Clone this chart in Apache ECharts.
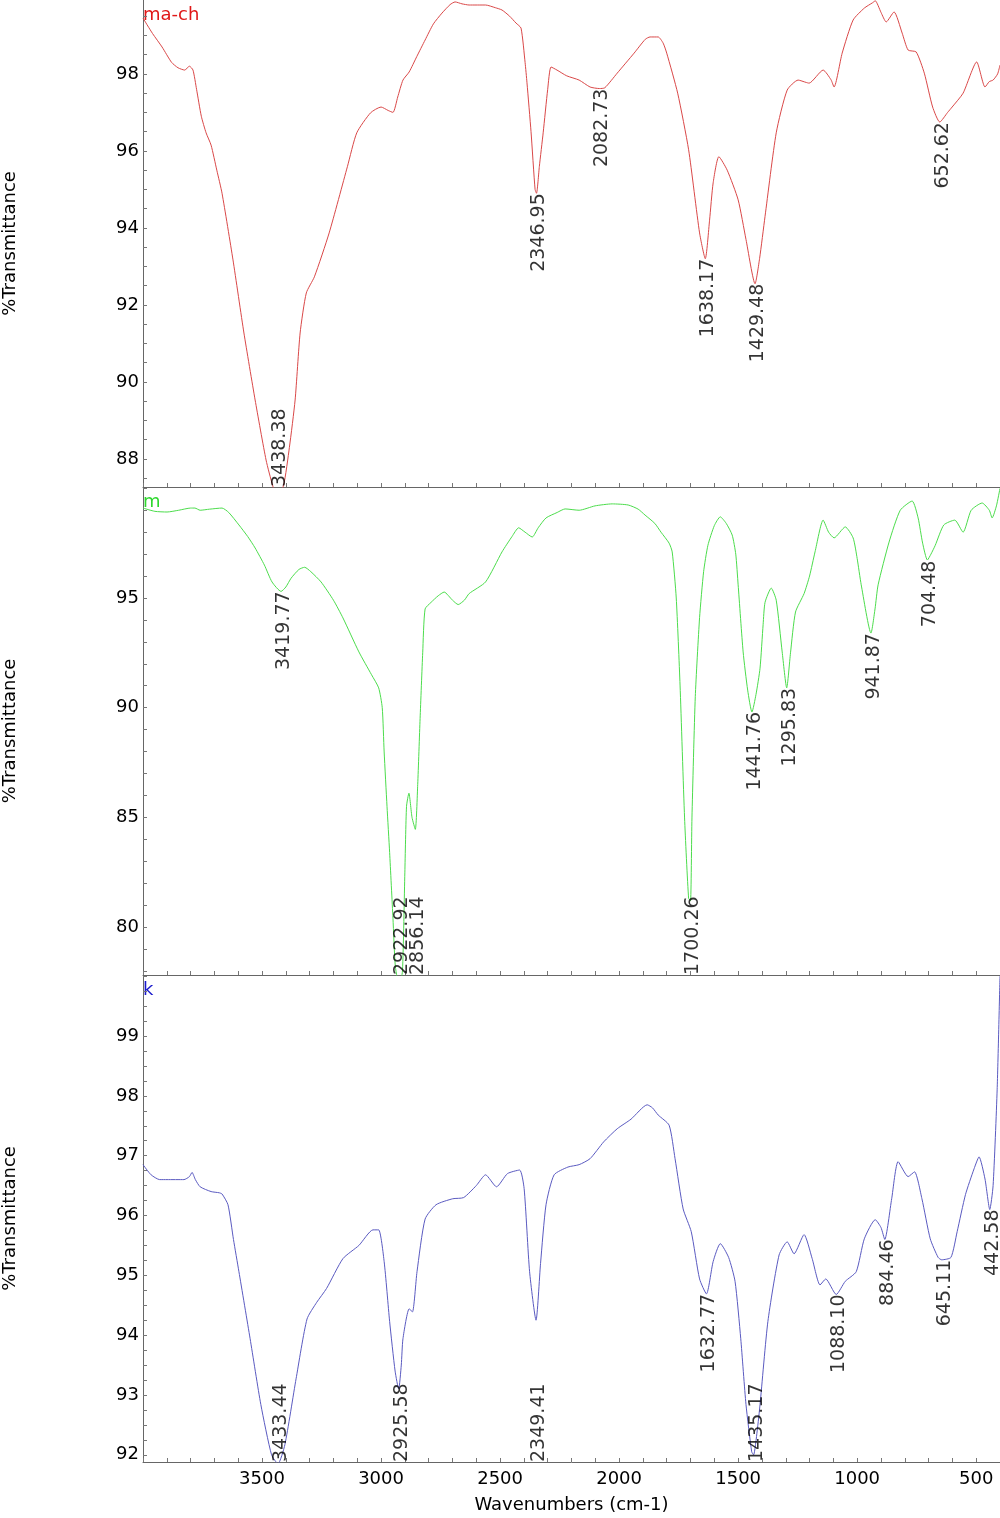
<!DOCTYPE html>
<html><head><meta charset="utf-8">
<script src="https://cdn.jsdelivr.net/npm/echarts@6/dist/echarts.min.js"></script>
<style>html,body{margin:0;padding:0;background:#fff}#c{width:1000px;height:1518px}</style>
</head><body><div id="c"></div>
<script>
// ---- data (wavenumber cm-1, %T) ----
const redSpectrum = [[4000,99.45],[3960,99.05],[3920,98.7],[3880,98.3],[3853,98.16],[3825,98.1],[3805,98.2],[3790,98.1],[3775,97.6],[3755,96.9],[3735,96.47],[3714,96.15],[3690,95.5],[3668,94.9],[3622,93.17],[3576,91.27],[3529,89.53],[3483,87.97],[3455,87.3],[3438,87.05],[3410,87.3],[3385,88.3],[3361,89.53],[3340,91.27],[3314,92.31],[3280,92.73],[3218,93.87],[3141,95.6],[3102,96.47],[3044,96.99],[3000,97.14],[2970,97.05],[2950,97.0],[2930,97.4],[2908,97.84],[2882,98.05],[2850,98.45],[2815,98.88],[2780,99.3],[2744,99.58],[2710,99.8],[2689,99.87],[2660,99.82],[2630,99.79],[2561,99.79],[2520,99.72],[2492,99.66],[2460,99.5],[2433,99.32],[2412,99.19],[2395,98.3],[2387,97.77],[2370,96.5],[2353,95.0],[2347,94.9],[2335,95.6],[2319,96.47],[2300,97.6],[2286,98.18],[2261,98.1],[2220,97.95],[2168,97.84],[2122,97.66],[2083,97.62],[2060,97.64],[2008,98.02],[1937,98.54],[1890,98.9],[1870,98.96],[1836,98.96],[1815,98.8],[1800,98.54],[1754,97.5],[1708,96.03],[1662,93.87],[1638,93.2],[1620,94.2],[1605,95.17],[1581,95.85],[1546,95.5],[1500,94.73],[1467,93.7],[1429,92.55],[1410,93.2],[1387,94.3],[1340,96.47],[1294,97.58],[1248,97.84],[1215,97.78],[1202,97.76],[1143,98.1],[1110,97.85],[1097,97.66],[1063,98.54],[1017,99.4],[970,99.71],[935,99.85],[924,99.9],[900,99.6],[878,99.35],[845,99.61],[811,99.06],[786,98.62],[752,98.57],[718,98.02],[683,97.14],[653,96.75],[620,97.0],[601,97.14],[555,97.5],[498,98.31],[463,97.66],[445,97.8],[429,97.84],[410,98.0],[400,98.23]];

const greenSpectrum = [[4000,99.1],[3950,98.95],[3899,98.92],[3850,99.0],[3800,99.1],[3782,99.1],[3760,99.0],[3720,99.05],[3668,99.1],[3640,98.9],[3597,98.33],[3560,97.8],[3529,97.28],[3490,96.5],[3458,95.73],[3420,95.3],[3400,95.5],[3378,95.9],[3345,96.3],[3321,96.4],[3295,96.2],[3252,95.73],[3200,94.9],[3160,94.09],[3093,92.54],[3040,91.5],[3010,90.9],[2995,90.0],[2987,87.98],[2975,85.5],[2964,83.4],[2950,80.4],[2940,78.2],[2923,77.3],[2910,78.0],[2900,82.5],[2893,85.5],[2883,86.1],[2870,85.0],[2856,84.45],[2846,86.5],[2836,89.5],[2825,92.5],[2815,94.5],[2790,94.8],[2760,95.1],[2735,95.27],[2700,94.9],[2676,94.7],[2650,94.9],[2630,95.2],[2561,95.73],[2492,97.1],[2450,97.8],[2422,98.2],[2395,98.0],[2365,97.78],[2340,98.2],[2307,98.65],[2260,98.9],[2227,99.06],[2168,99.0],[2101,99.2],[2029,99.29],[1962,99.24],[1920,99.05],[1891,98.78],[1850,98.4],[1824,98.0],[1790,97.5],[1777,97.1],[1760,95.0],[1744,91.03],[1725,84.97],[1708,81.3],[1700,81.2],[1694,84.97],[1680,90.5],[1662,94.1],[1645,96.2],[1627,97.4],[1600,98.3],[1575,98.7],[1550,98.4],[1525,97.87],[1510,97.0],[1500,95.6],[1479,92.54],[1460,90.8],[1442,89.8],[1425,90.6],[1408,91.8],[1395,93.8],[1387,94.8],[1361,95.45],[1340,94.9],[1315,92.54],[1296,90.9],[1280,92.5],[1259,94.36],[1223,95.2],[1200,96.0],[1177,97.1],[1143,98.55],[1120,98.0],[1097,97.74],[1050,98.24],[1017,97.74],[1000,96.8],[983,95.6],[942,93.4],[925,94.5],[912,95.6],[866,97.55],[819,99.0],[769,99.42],[744,98.65],[725,97.5],[705,96.73],[690,97.0],[672,97.4],[636,98.33],[590,98.55],[555,98.0],[521,99.0],[475,99.33],[445,99.0],[433,98.65],[415,99.2],[400,100.0]];

const blueSpectrum = [[4000,96.85],[3966,96.68],[3930,96.6],[3899,96.6],[3828,96.6],[3805,96.65],[3794,96.72],[3780,96.6],[3760,96.48],[3714,96.4],[3680,96.38],[3668,96.36],[3643,96.18],[3620,95.6],[3597,95.06],[3550,93.94],[3505,92.84],[3460,92.0],[3433,91.85],[3404,92.17],[3357,93.27],[3311,94.27],[3270,94.55],[3229,94.78],[3160,95.28],[3093,95.5],[3034,95.76],[3010,95.76],[2987,95.23],[2964,94.23],[2941,93.4],[2926,93.1],[2915,93.5],[2908,93.94],[2882,94.44],[2868,94.39],[2849,95.06],[2815,95.94],[2769,96.18],[2699,96.28],[2653,96.3],[2600,96.5],[2561,96.68],[2515,96.48],[2469,96.7],[2418,96.76],[2399,96.45],[2376,95.06],[2349,94.25],[2330,95.2],[2307,96.18],[2273,96.68],[2215,96.81],[2168,96.85],[2122,96.95],[2065,97.23],[2008,97.45],[1950,97.61],[1882,97.85],[1860,97.8],[1836,97.68],[1790,97.51],[1765,96.95],[1731,96.11],[1697,95.73],[1662,94.94],[1633,94.69],[1605,95.23],[1575,95.53],[1540,95.3],[1513,94.9],[1489,93.94],[1467,92.84],[1443,92.05],[1435,92.0],[1420,92.4],[1408,92.84],[1375,94.23],[1328,95.34],[1294,95.56],[1265,95.36],[1223,95.68],[1189,95.28],[1156,94.84],[1132,94.94],[1088,94.68],[1050,94.9],[1004,95.06],[970,95.61],[924,95.93],[900,95.8],[884,95.6],[855,96.28],[828,96.9],[786,96.65],[759,96.73],[728,96.28],[693,95.61],[660,95.3],[645,95.26],[606,95.3],[580,95.73],[545,96.35],[509,96.78],[488,96.98],[463,96.61],[443,96.1],[429,96.5],[412,98.1],[400,100.0]];

// peak labels: [wavenumber, %T at peak]
const redPeaks = [[3438.38,87.05],[2346.95,94.9],[2082.73,97.62],[1638.17,93.2],[1429.48,92.55],[652.62,96.75]];
const greenPeaks = [[3419.77,95.3],[2922.92,77.3],[2856.14,84.45],[1700.26,81.2],[1441.76,89.8],[1295.83,90.9],[941.87,93.4],[704.48,96.7]];
const bluePeaks = [[3433.44,91.85],[2925.58,93.1],[2349.41,94.25],[1632.77,94.69],[1435.17,92.0],[1088.10,94.68],[884.46,95.6],[645.11,95.26],[442.58,96.1]];
// labels drawn upward from the bottom of the panel
const baseAnchoredLabels = ['3438.38','2922.92','2856.14','1700.26','3433.44','2925.58','2349.41','1435.17'];

const panelNames = ['ma-ch','m','k'];
const yRanges = [[87.27,99.92],[77.81,100.06],[91.88,100.02]];
const yTickLabels = [[88,90,92,94,96,98],[80,85,90,95],[92,93,94,95,96,97,98,99]];
const yMinorStep = [0.5,1,0.25];
const xTickLabels = [3500,3000,2500,2000,1500,1000,500];

// ---- chart ----
const FONT = 'DejaVu Sans';
const lineColors = ['#d94848','#4cdc4c','#5a5ac0'];
const nameColors = ['#e01818','#2ed82e','#1a1acc'];
const spectra = [redSpectrum, greenSpectrum, blueSpectrum];
const peaks = [redPeaks, greenPeaks, bluePeaks];
const grids = [{left:143,right:0,top:0,height:487},{left:143,right:0,top:487,height:488},{left:143,right:0,top:975,height:487}]
  .map(g=>Object.assign(g,{containLabel:false,outerBoundsMode:'none'}));

function range(a,b,s){const r=[];for(let v=Math.ceil(a/s-1e-9)*s;v<=b+1e-9;v+=s)r.push(+v.toFixed(3));return r;}

const xAxes = grids.map((g,i)=>({
  type:'value', gridIndex:i, inverse:true, min:400, max:4000, interval:100,
  axisLine:{show:true,onZero:false,lineStyle:{color:'#666',width:1}},
  axisTick:{show:true,inside:true,length:4,lineStyle:{color:'#777'}},
  splitLine:{show:false},
  axisLabel:{show:i===2, fontFamily:FONT, fontSize:18, color:'#000', margin:8,
    formatter:v=> xTickLabels.indexOf(v)>=0 ? String(v) : ''},
  name: i===2 ? 'Wavenumbers (cm-1)' : '', nameLocation:'middle', nameGap:34,
  nameTextStyle:{fontFamily:FONT,fontSize:18,color:'#000'}
}));

const yAxes = grids.map((g,i)=>({
  type:'value', gridIndex:i, min:yRanges[i][0], max:yRanges[i][1],
  axisLine:{show:true,lineStyle:{color:'#666',width:1}},
  axisTick:{show:true,inside:true,length:4,lineStyle:{color:'#777'},customValues:range(yRanges[i][0],yRanges[i][1],yMinorStep[i])},
  splitLine:{show:false},
  axisLabel:{show:true,fontFamily:FONT,fontSize:18,color:'#000',margin:4,customValues:yTickLabels[i]},
  name:'%Transmittance', nameLocation:'middle', nameGap:124,
  nameTextStyle:{fontFamily:FONT,fontSize:18,color:'#000'}
}));

const series = [];
spectra.forEach((d,i)=>{
  series.push({type:'line', xAxisIndex:i, yAxisIndex:i, data:d, showSymbol:false, smooth:0.2,
    lineStyle:{color:lineColors[i],width:1}, clip:true, silent:true, z:2});
  const pd = peaks[i].map(p=>{
    const txt = p[0].toFixed(2);
    const base = baseAnchoredLabels.indexOf(txt)>=0;
    return {value:[p[0], base ? yRanges[i][0] : p[1]],
      label:{align: base ? 'left' : 'right', formatter: txt}};
  });
  series.push({type:'scatter', xAxisIndex:i, yAxisIndex:i, data:pd, symbolSize:1, clip:false,
    itemStyle:{color:'rgba(0,0,0,0)'}, silent:true, z:5,
    label:{show:true, position:'inside', rotate:90, verticalAlign:'middle', distance:0, offset:[0,3],
      fontFamily:FONT, fontSize:19, color:'#000'}});
});

const graphic = panelNames.map((n,i)=>({type:'text', left:143, top:grids[i].top+6,
  style:{text:n, fill:nameColors[i], font:'18px "DejaVu Sans"'}}));

const chart = echarts.init(document.getElementById('c'), null, {renderer:'canvas'});
chart.setOption({animation:false, backgroundColor:'#fff', grid:grids, xAxis:xAxes, yAxis:yAxes, series, graphic});
</script></body></html>
